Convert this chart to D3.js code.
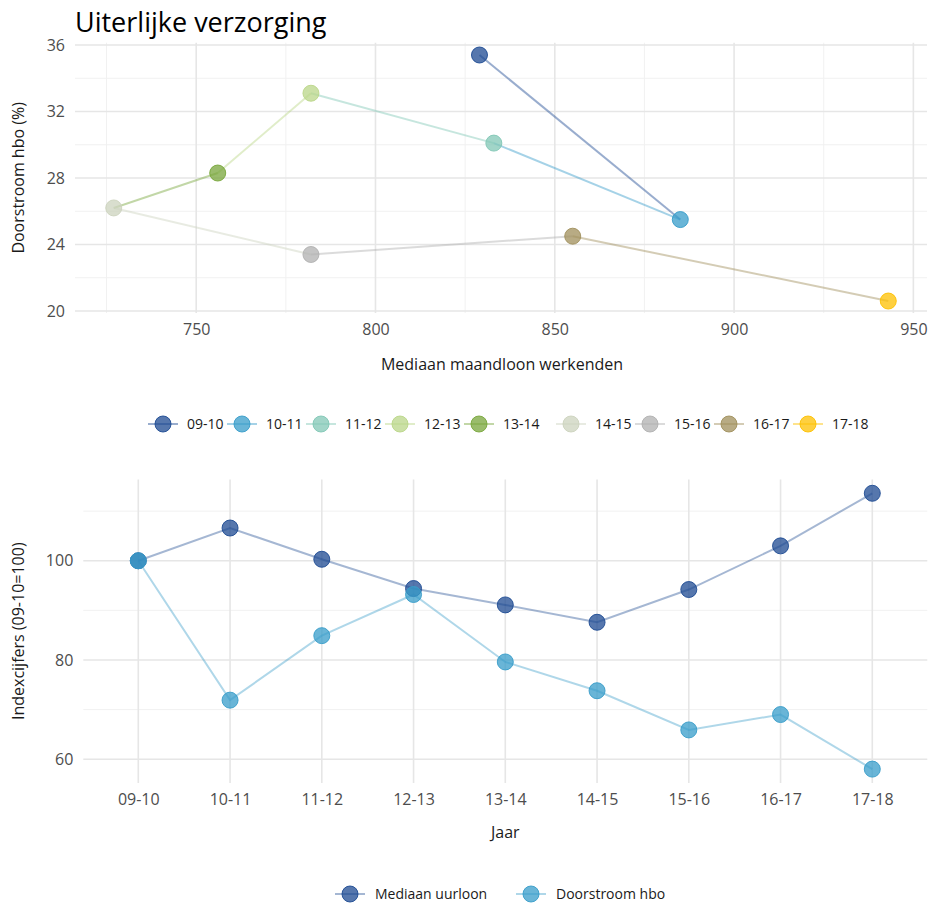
<!DOCTYPE html>
<html>
<head>
<meta charset="utf-8">
<script src="https://cdn.jsdelivr.net/npm/d3@7"></script>
<style>
  html, body { margin: 0; padding: 0; background: #fff; }
  svg { display: block; font-family: "Open Sans", "Noto Sans", sans-serif; }
</style>
</head>
<body>
<svg id="chart" width="930" height="909"></svg>
<script>
// ---------- data ----------
const title = "Uiterlijke verzorging";
const years = ["09-10", "10-11", "11-12", "12-13", "13-14", "14-15", "15-16", "16-17", "17-18"];
const yearColors = ["#1d4a92", "#379cc9", "#81c7b5", "#bad688", "#78a63b", "#ccd3be", "#b0b0b0", "#a08f5b", "#fdc000"];
// top scatter: median monthly wage vs. flow to hbo (%)
const maandloon = [829, 885, 833, 782, 756, 727, 782, 855, 943];
const doorstroomPct = [35.4, 25.5, 30.1, 33.1, 28.3, 26.2, 23.4, 24.5, 20.6];
const topXTicks = [750, 800, 850, 900, 950];
const topYTicks = [20, 24, 28, 32, 36];
// bottom: index numbers
const seriesNames = ["Mediaan uurloon", "Doorstroom hbo"];
const seriesColors = ["#1d4a92", "#379cc9"];
const indexUurloon = [100, 106.6, 100.3, 94.4, 91.1, 87.6, 94.2, 103.0, 113.6];
const indexDoorstroom = [100, 71.9, 84.9, 93.2, 79.6, 73.8, 65.9, 69.0, 58.0];
const bottomYTicks = [60, 80, 100];

// ---------- setup ----------
const svg = d3.select("#chart");
const majorGrid = "#e6e6e6", minorGrid = "#f1f1f1", tickCol = "#4d4d4d", textCol = "#1a1a1a";
const tickSize = 16, titleSize = 16, legSize = 14;

svg.append("text").attr("x", 75).attr("y", 32)
  .attr("font-size", 27).attr("fill", "#000").text(title);

// ---------- top chart ----------
const tp = { l: 75, r: 927, t: 42.7, b: 313 };
const x1 = d3.scaleLinear().domain([716.2, 953.8]).range([tp.l, tp.r]);
const y1 = d3.scaleLinear().domain([19.88, 36.14]).range([tp.b, tp.t]);
const gTop = svg.append("g");

// minor grid
const xMinor1 = d3.range(725, 951, 50);
const yMinor1 = d3.range(22, 36, 4);
gTop.selectAll(".vmin").data(xMinor1).join("line")
  .attr("x1", d => x1(d)).attr("x2", d => x1(d)).attr("y1", tp.t).attr("y2", tp.b)
  .attr("stroke", minorGrid).attr("stroke-width", 1);
gTop.selectAll(".hmin").data(yMinor1).join("line")
  .attr("x1", tp.l).attr("x2", tp.r).attr("y1", d => y1(d)).attr("y2", d => y1(d))
  .attr("stroke", minorGrid).attr("stroke-width", 1);
// major grid
gTop.selectAll(".vmaj").data(topXTicks).join("line")
  .attr("x1", d => x1(d)).attr("x2", d => x1(d)).attr("y1", tp.t).attr("y2", tp.b)
  .attr("stroke", majorGrid).attr("stroke-width", 1.6);
gTop.selectAll(".hmaj").data(topYTicks).join("line")
  .attr("x1", tp.l).attr("x2", tp.r).attr("y1", d => y1(d)).attr("y2", d => y1(d))
  .attr("stroke", majorGrid).attr("stroke-width", 1.6);

// axes via d3 axis
const xAx1 = gTop.append("g").attr("transform", `translate(0,${tp.b})`)
  .call(d3.axisBottom(x1).tickValues(topXTicks).tickSize(0).tickPadding(11));
const yAx1 = gTop.append("g").attr("transform", `translate(${tp.l},0)`)
  .call(d3.axisLeft(y1).tickValues(topYTicks).tickSize(0).tickPadding(10));
[xAx1, yAx1].forEach(a => {
  a.select(".domain").remove();
  a.selectAll("text").attr("font-size", tickSize).attr("fill", tickCol).attr("font-family", "Open Sans, sans-serif");
});

// segments colored by starting year
const pts = years.map((y, i) => ({ year: y, x: maandloon[i], y: doorstroomPct[i], c: yearColors[i] }));
const segs = pts.slice(0, -1).map((p, i) => ({ a: p, b: pts[i + 1] }));
gTop.selectAll(".seg").data(segs).join("line")
  .attr("x1", d => x1(d.a.x)).attr("y1", d => y1(d.a.y))
  .attr("x2", d => x1(d.b.x)).attr("y2", d => y1(d.b.y))
  .attr("stroke", d => d.a.c).attr("stroke-opacity", 0.45).attr("stroke-width", 2);
gTop.selectAll(".pt").data(pts).join("circle")
  .attr("cx", d => x1(d.x)).attr("cy", d => y1(d.y)).attr("r", 8)
  .attr("fill", d => d.c).attr("fill-opacity", 0.75)
  .attr("stroke", d => d.c).attr("stroke-opacity", 0.9).attr("stroke-width", 1);

svg.append("text").attr("x", (tp.l + tp.r) / 2 + 1).attr("y", 370).attr("text-anchor", "middle")
  .attr("font-size", titleSize).attr("fill", textCol).text("Mediaan maandloon werkenden");
svg.append("text").attr("transform", `translate(24,${(tp.t + tp.b) / 2}) rotate(-90)`)
  .attr("text-anchor", "middle").attr("font-size", titleSize).attr("fill", textCol).text("Doorstroom hbo (%)");

// top legend
const legTop = svg.append("g");
const legY1 = 424;
years.forEach((yr, i) => {
  const cx = 163 + i * 79 + (i >= 5 ? 13 : 0);
  const g = legTop.append("g").attr("transform", `translate(${cx},${legY1})`);
  g.append("line").attr("x1", -15).attr("x2", 15).attr("stroke", yearColors[i])
    .attr("stroke-opacity", 0.45).attr("stroke-width", 2);
  g.append("circle").attr("r", 8).attr("fill", yearColors[i]).attr("fill-opacity", 0.75)
    .attr("stroke", yearColors[i]).attr("stroke-opacity", 0.9);
  g.append("text").attr("x", 24).attr("y", 5).attr("font-size", legSize).attr("fill", textCol).text(yr);
});

// ---------- bottom chart ----------
const bp = { l: 83.3, r: 927.3, t: 479.4, b: 783 };
const x2 = d3.scalePoint().domain(years).range([138.3, 872.3]);
const y2 = d3.scaleLinear().domain([55.2, 116.4]).range([bp.b, bp.t]);
const gBot = svg.append("g");
const yMinor2 = [70, 90, 110];
gBot.selectAll(".hmin").data(yMinor2).join("line")
  .attr("x1", bp.l).attr("x2", bp.r).attr("y1", d => y2(d)).attr("y2", d => y2(d))
  .attr("stroke", minorGrid).attr("stroke-width", 1);
gBot.selectAll(".vmaj").data(years).join("line")
  .attr("x1", d => x2(d)).attr("x2", d => x2(d)).attr("y1", bp.t).attr("y2", bp.b)
  .attr("stroke", majorGrid).attr("stroke-width", 1.6);
gBot.selectAll(".hmaj").data(bottomYTicks).join("line")
  .attr("x1", bp.l).attr("x2", bp.r).attr("y1", d => y2(d)).attr("y2", d => y2(d))
  .attr("stroke", majorGrid).attr("stroke-width", 1.6);

const xAx2 = gBot.append("g").attr("transform", `translate(0,${bp.b})`)
  .call(d3.axisBottom(x2).tickSize(0).tickPadding(11));
const yAx2 = gBot.append("g").attr("transform", `translate(${bp.l},0)`)
  .call(d3.axisLeft(y2).tickValues(bottomYTicks).tickSize(0).tickPadding(10));
[xAx2, yAx2].forEach(a => {
  a.select(".domain").remove();
  a.selectAll("text").attr("font-size", tickSize).attr("fill", tickCol).attr("font-family", "Open Sans, sans-serif");
});

const series = [
  { name: seriesNames[0], vals: indexUurloon, c: seriesColors[0] },
  { name: seriesNames[1], vals: indexDoorstroom, c: seriesColors[1] }
];
const line2 = d3.line().x((d, i) => x2(years[i])).y(d => y2(d));
series.forEach(s => {
  gBot.append("path").attr("d", line2(s.vals)).attr("fill", "none")
    .attr("stroke", s.c).attr("stroke-opacity", 0.4).attr("stroke-width", 2);
});
series.forEach(s => {
  gBot.append("g").selectAll("circle").data(s.vals).join("circle")
    .attr("cx", (d, i) => x2(years[i])).attr("cy", d => y2(d)).attr("r", 8)
    .attr("fill", s.c).attr("fill-opacity", 0.75)
    .attr("stroke", s.c).attr("stroke-opacity", 0.9);
});

svg.append("text").attr("x", (bp.l + bp.r) / 2).attr("y", 838).attr("text-anchor", "middle")
  .attr("font-size", titleSize).attr("fill", textCol).text("Jaar");
svg.append("text").attr("transform", `translate(24,${(bp.t + bp.b) / 2}) rotate(-90)`)
  .attr("text-anchor", "middle").attr("font-size", titleSize).attr("fill", textCol).text("Indexcijfers (09-10=100)");

// bottom legend
const legBx = [350, 531];
seriesNames.forEach((nm, i) => {
  const g = svg.append("g").attr("transform", `translate(${legBx[i]},894)`);
  g.append("line").attr("x1", -15).attr("x2", 15).attr("stroke", seriesColors[i])
    .attr("stroke-opacity", 0.4).attr("stroke-width", 2);
  g.append("circle").attr("r", 8).attr("fill", seriesColors[i]).attr("fill-opacity", 0.75)
    .attr("stroke", seriesColors[i]).attr("stroke-opacity", 0.9);
  g.append("text").attr("x", 25).attr("y", 5).attr("font-size", legSize).attr("fill", textCol).text(nm);
});
</script>
</body>
</html>
